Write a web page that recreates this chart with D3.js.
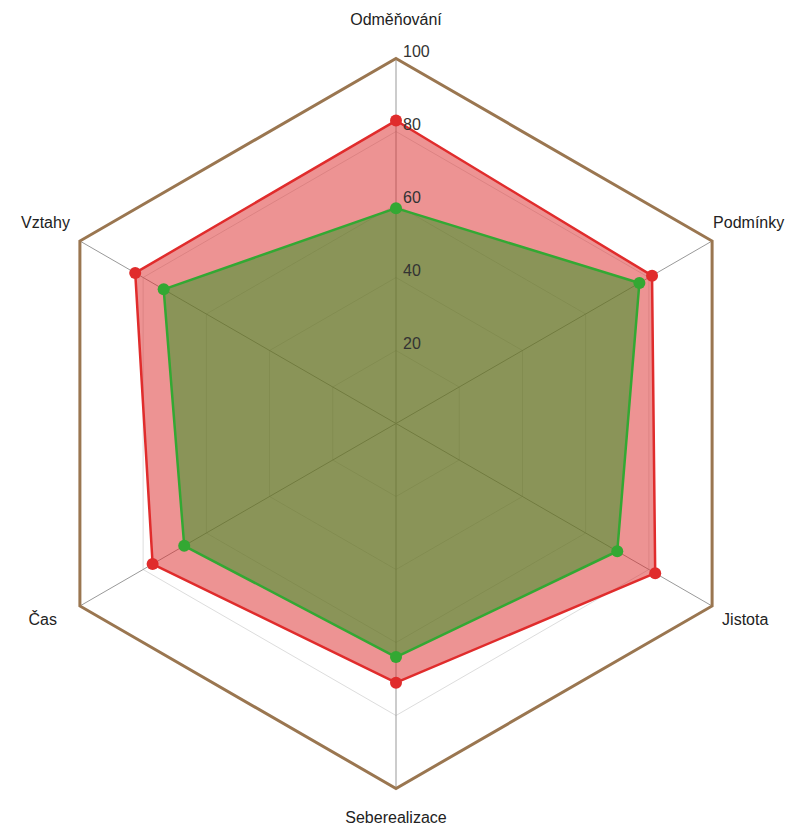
<!DOCTYPE html>
<html>
<head>
<meta charset="utf-8">
<script src="https://cdn.jsdelivr.net/npm/d3@7"></script>
<style>
  body { margin: 0; background: #fff; }
  text { font-family: "Liberation Sans", Arial, sans-serif; }
</style>
</head>
<body>
<svg id="radar" width="785" height="826"></svg>
<script>
const categories = ['Odměňování', 'Podmínky', 'Jistota', 'Seberealizace', 'Čas', 'Vztahy']
const redValues   = [83, 81, 82, 71, 77, 82.5]
const greenValues = [59, 77, 70, 64, 67, 73.5]
const ticks = [20, 40, 60, 80, 100]

const svg = d3.select('#radar')
const cx = 396, cy = 423.5
const r = d3.scaleLinear().domain([0, 100]).range([0, 365])
const angle = i => i * Math.PI / 3            // clockwise from top

const pt = (i, v) => [cx + r(v) * Math.sin(angle(i)), cy - r(v) * Math.cos(angle(i))]
const ring = v => categories.map((_, i) => pt(i, v))
const line = d3.line().curve(d3.curveLinearClosed)

// inner grid
svg.append('g').selectAll('path')
  .data(ticks.slice(0, -1))
  .join('path')
  .attr('d', d => line(ring(d)))
  .attr('fill', 'none')
  .attr('stroke', '#ddd')
  .attr('stroke-width', 1)

// spokes
svg.append('g').selectAll('line')
  .data(categories)
  .join('line')
  .attr('x1', cx).attr('y1', cy)
  .attr('x2', (d, i) => pt(i, 100)[0])
  .attr('y2', (d, i) => pt(i, 100)[1])
  .attr('stroke', '#999')
  .attr('stroke-width', 1)

// series
const series = [
  {values: redValues,   stroke: '#e02c2c', fill: 'rgba(220,40,40,0.5)'},
  {values: greenValues, stroke: '#33a833', fill: 'rgba(40,150,30,0.5)'}
]
series.forEach(s => {
  const pts = s.values.map((v, i) => pt(i, v))
  svg.append('path')
    .attr('d', line(pts))
    .attr('fill', s.fill)
    .attr('stroke', s.stroke)
    .attr('stroke-width', 2.5)
    .attr('stroke-linejoin', 'round')
  svg.append('g').selectAll('circle')
    .data(pts)
    .join('circle')
    .attr('cx', d => d[0]).attr('cy', d => d[1])
    .attr('r', 6)
    .attr('fill', s.stroke)
})

// outer hexagon
svg.append('path')
  .attr('d', line(ring(100)))
  .attr('fill', 'none')
  .attr('stroke', '#9a7650')
  .attr('stroke-width', 3)

// tick labels
svg.append('g').selectAll('text')
  .data(ticks)
  .join('text')
  .attr('x', cx + 7)
  .attr('y', d => cy - r(d) - 2)
  .attr('font-size', 16)
  .attr('fill', '#333')
  .text(d => d)

// category labels
const labelOffset = [
  {dx: 0,   dy: -34, anchor: 'middle'},
  {dx: 1,   dy: -13, anchor: 'start'},
  {dx: 10,  dy: 19,  anchor: 'start'},
  {dx: 0,   dy: 34,  anchor: 'middle'},
  {dx: -23, dy: 19,  anchor: 'end'},
  {dx: -10, dy: -13, anchor: 'end'}
]
svg.append('g').selectAll('text')
  .data(categories)
  .join('text')
  .attr('x', (d, i) => pt(i, 100)[0] + labelOffset[i].dx)
  .attr('y', (d, i) => pt(i, 100)[1] + labelOffset[i].dy)
  .attr('text-anchor', (d, i) => labelOffset[i].anchor)
  .attr('font-size', 16)
  .attr('fill', '#222')
  .text(d => d)
</script>
</body>
</html>
